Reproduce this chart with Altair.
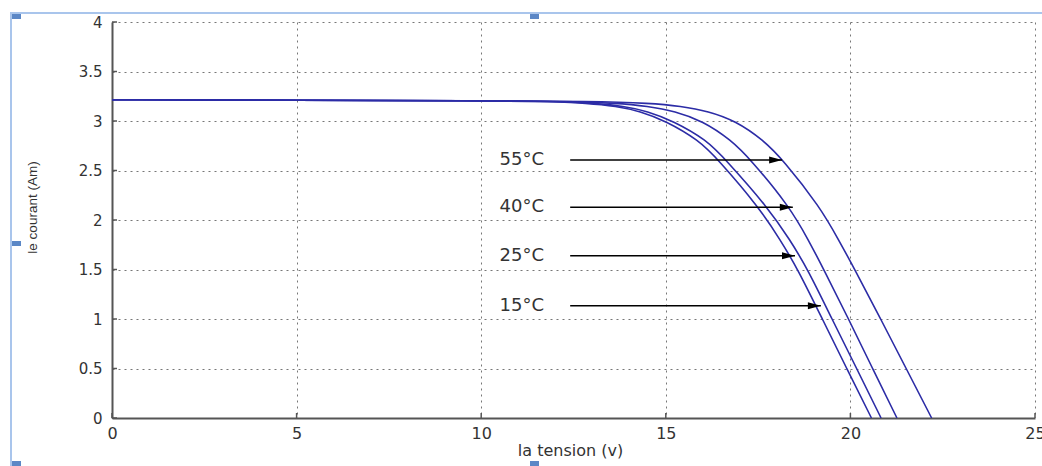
import altair as alt
import pandas as pd

# ---- data ----
current_levels = [3.215, 3.21, 3.205, 3.2, 3.18, 3.15, 3.1, 3.0, 2.81, 2.61, 2.13, 1.8, 1.5, 1.0, 0.5, 0.0]
v_a = [0, 5, 10, 13.0, 14.6, 15.4, 16.15, 16.9, 17.63, 18.17, 19.18, 19.68, 20.12, 20.82, 21.51, 22.2]
v_b = [0, 5, 10, 12.2, 13.7, 14.5, 15.25, 16.0, 16.76, 17.3, 18.36, 18.86, 19.28, 19.95, 20.6, 21.26]
v_c = [0, 5, 10, 11.9, 13.1, 13.85, 14.5, 15.2, 16.1, 16.62, 17.76, 18.36, 18.85, 19.5, 20.17, 20.83]
v_d = [0, 5, 10, 11.7, 12.9, 13.65, 14.3, 15.0, 15.88, 16.42, 17.52, 18.1, 18.58, 19.24, 19.9, 20.57]

labels = ["55°C", "40°C", "25°C", "15°C"]
arrow_current = [2.606, 2.128, 1.64, 1.134]
arrow_start = [12.41, 12.41, 12.41, 12.41]
arrow_end = [18.15, 18.44, 18.50, 19.20]
label_v = [11.1, 11.1, 11.1, 11.1]

x_ticks = [0, 5, 10, 15, 20, 25]
y_ticks = [0, 0.5, 1, 1.5, 2, 2.5, 3, 3.5, 4]

# ---- tables ----
rows = []
for name, vs in [("a", v_a), ("b", v_b), ("c", v_c), ("d", v_d)]:
    for k, (v, i) in enumerate(zip(vs, current_levels)):
        rows.append({"V": v, "I": i, "curve": name, "k": k})
curves_df = pd.DataFrame(rows)

arrows_df = pd.DataFrame({"V": arrow_start, "V2": arrow_end, "I": arrow_current,
                          "label": labels, "LV": label_v})
xt_df = pd.DataFrame({"V": x_ticks})
yt_df = pd.DataFrame({"I": y_ticks})
one = pd.DataFrame({"a": [0]})

W, H = 923, 396
xscale = alt.Scale(domain=[0, 25], nice=False, zero=False)
yscale = alt.Scale(domain=[0, 4], nice=False, zero=False)

FONT = "DejaVu Sans"
TXT = "#333333"

x_axis = alt.Axis(values=x_ticks, format="~g", title="la tension (v)", grid=True,
                  gridDash=[2, 4], gridColor="#777777", gridWidth=1, ticks=False,
                  domainColor="#555555", domainWidth=2, labelFont=FONT, labelFontSize=16,
                  labelColor=TXT, labelPadding=7, labelFlush=False,
                  titleFont=FONT, titleFontSize=16, titleFontWeight="normal",
                  titleColor=TXT, titleY=32, titleBaseline="middle", titleX=458)
y_axis = alt.Axis(values=y_ticks, format="~g", title="le courant (Am)", grid=True,
                  gridDash=[2, 4], gridColor="#777777", gridWidth=1, ticks=False,
                  domainColor="#555555", domainWidth=2, labelFont=FONT, labelFontSize=15,
                  labelColor=TXT, labelPadding=10,
                  titleFont="Liberation Sans", titleFontSize=13.5, titleFontWeight="normal",
                  titleColor=TXT, titleX=-80, titleY=185, titleBaseline="middle",
                  titleAngle=270, titleAlign="center")

curves = alt.Chart(curves_df).mark_line(interpolate="basis", strokeWidth=1.6,
                                        color="#2c2ca6").encode(
    x=alt.X("V:Q", scale=xscale, axis=x_axis),
    y=alt.Y("I:Q", scale=yscale, axis=y_axis),
    detail="curve:N",
    order="k:Q",
)

yticks = alt.Chart(yt_df).mark_rule(color="#555555", strokeWidth=1.5).encode(
    y=alt.Y("I:Q", scale=yscale), x=alt.value(0), x2=alt.value(5))
xticks = alt.Chart(xt_df).mark_rule(color="#555555", strokeWidth=1.5).encode(
    x=alt.X("V:Q", scale=xscale), y=alt.value(H), y2=alt.value(H - 5))

arrow_lines = alt.Chart(arrows_df).mark_rule(color="black", strokeWidth=1.5).encode(
    x=alt.X("V:Q", scale=xscale), x2="V2:Q", y=alt.Y("I:Q", scale=yscale))
arrow_heads = alt.Chart(arrows_df).mark_point(
    shape="M-1,-0.27L0,0L-1,0.27Z", size=676, filled=True, color="black",
    opacity=1, strokeWidth=0).encode(
    x=alt.X("V2:Q", scale=xscale), y=alt.Y("I:Q", scale=yscale))
arrow_text = alt.Chart(arrows_df).mark_text(font=FONT, fontSize=18, color=TXT,
                                            align="center", baseline="middle").encode(
    x=alt.X("LV:Q", scale=xscale), y=alt.Y("I:Q", scale=yscale), text="label:N")

# light blue selection frame of the screenshot
frame_top = alt.Chart(one).mark_rule(color="#a9c5ec", strokeWidth=2).encode(
    x=alt.value(-102), x2=alt.value(W + 20), y=alt.value(-9))
frame_left = alt.Chart(one).mark_rule(color="#a9c5ec", strokeWidth=2).encode(
    x=alt.value(-101), y=alt.value(-9), y2=alt.value(H + 60))
handles = [(-100, -8), (418, -8), (-100, 219), (-100, 439), (418, 439)]
handle_layers = [
    alt.Chart(one).mark_rect(color="#5b87c6").encode(
        x=alt.value(hx), x2=alt.value(hx + 9), y=alt.value(hy), y2=alt.value(hy + 5))
    for hx, hy in handles
]

chart = alt.layer(curves, yticks, xticks, arrow_lines, arrow_heads, arrow_text,
                  frame_top, frame_left, *handle_layers).properties(
    width=W, height=H,
    autosize=alt.AutoSizeParams(type="none"),
    padding={"left": 112, "top": 22, "right": 7, "bottom": 48},
    background="white",
).configure_view(stroke=None)

chart.save("out.html", embed_options={"renderer": "svg", "actions": False})
